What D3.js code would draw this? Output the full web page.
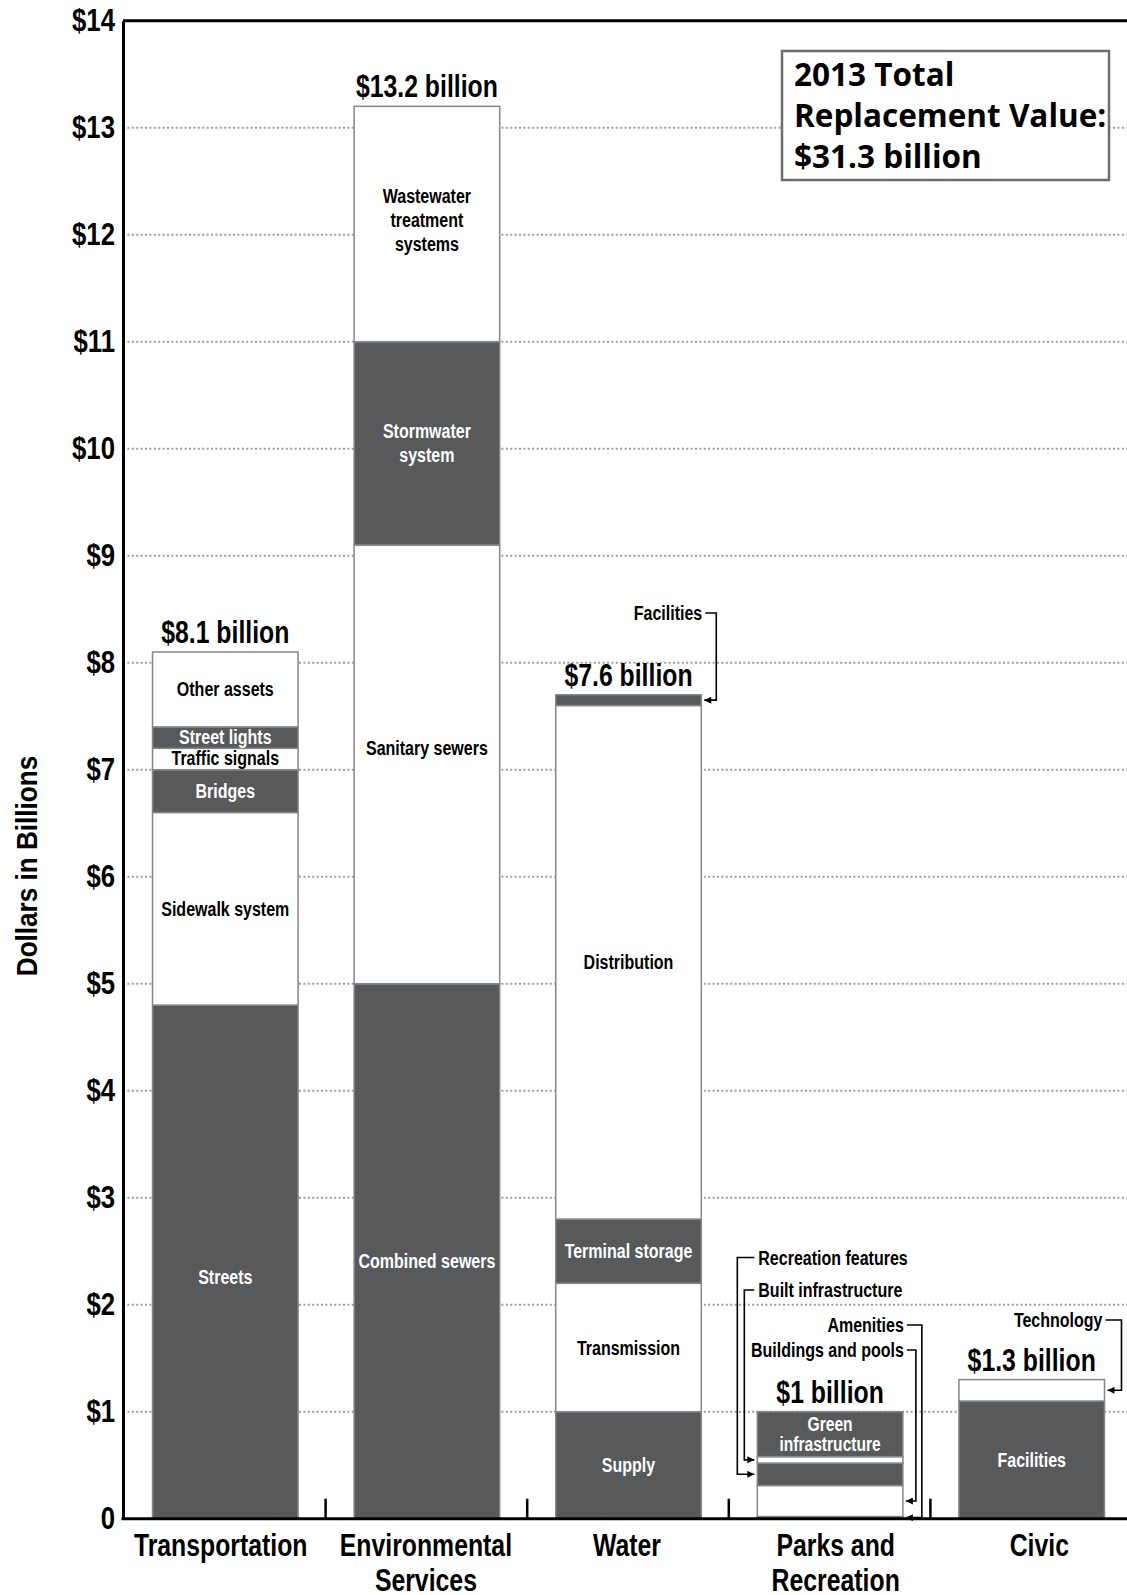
<!DOCTYPE html>
<html>
<head>
<meta charset="utf-8">
<script src="https://cdn.jsdelivr.net/npm/d3@7/dist/d3.min.js"></script>
<style>
  html, body { margin: 0; padding: 0; background: #fff; }
  svg { display: block; }
</style>
</head>
<body>
<svg id="chart" width="1127" height="1595"></svg>
<script>
// ---------- DATA ----------
const categories = ["Transportation", "Environmental Services", "Water", "Parks and Recreation", "Civic"];
const categoryLines = [["Transportation"], ["Environmental", "Services"], ["Water"], ["Parks and", "Recreation"], ["Civic"]];
const totalLabels = ["$8.1 billion", "$13.2 billion", "$7.6 billion", "$1 billion", "$1.3 billion"];

const transportationNames = ["Streets", "Sidewalk system", "Bridges", "Traffic signals", "Street lights", "Other assets"];
const transportationValues = [4.8, 1.8, 0.4, 0.2, 0.2, 0.7];

const environmentalNames = ["Combined sewers", "Sanitary sewers", "Stormwater system", "Wastewater treatment systems"];
const environmentalValues = [5.0, 4.1, 1.9, 2.2];

const waterNames = ["Supply", "Transmission", "Terminal storage", "Distribution", "Facilities"];
const waterValues = [1.0, 1.2, 0.6, 4.8, 0.1];

const parksNames = ["Amenities", "Buildings and pools", "Recreation features", "Built infrastructure", "Green infrastructure"];
const parksValues = [0.02, 0.29, 0.21, 0.06, 0.42];

const civicNames = ["Facilities", "Technology"];
const civicValues = [1.1, 0.2];

const yTicks = [0, 1, 2, 3, 4, 5, 6, 7, 8, 9, 10, 11, 12, 13, 14];
const yTickLabels = ["0", "$1", "$2", "$3", "$4", "$5", "$6", "$7", "$8", "$9", "$10", "$11", "$12", "$13", "$14"];

const legendLines = ["2013 Total", "Replacement Value:", "$31.3 billion"];
const yAxisTitle = "Dollars in Billions";

// ---------- LAYOUT ----------
const W = 1127, H = 1595;
const DARK = "#58595b";
const EDGE = "#868686";
const COND = "'Liberation Sans', Arial, sans-serif";
const BOLD = "'Open Sans', 'DejaVu Sans', sans-serif";
const SQUEEZE = 0.8;

const axisX = 123, topY = 20.7, baseY = 1518.7;
const svg = d3.select("#chart");

const y = d3.scaleLinear().domain([0, 14]).range([baseY, topY]);
const x = d3.scaleBand().domain(categories).range([124.5, 124.5 + 5 * 201.6])
  .paddingInner(0.278).paddingOuter(0.139);

// condensed bold text helper (emulates a condensed face by squeezing glyphs)
function condense(sel, factor) {
  sel.each(function () {
    const w = this.getComputedTextLength();
    d3.select(this).attr("textLength", w * factor).attr("lengthAdjust", "spacingAndGlyphs");
  });
}
function ctext(parent, px, py, str, size, anchor, fill, factor) {
  const t = parent.append("text")
    .attr("x", px).attr("y", py)
    .attr("font-family", COND).attr("font-weight", "bold").attr("font-size", size)
    .attr("text-anchor", anchor || "middle").attr("fill", fill || "#000")
    .text(str);
  condense(t, factor || SQUEEZE);
  return t;
}

const seriesNames = [transportationNames, environmentalNames, waterNames, parksNames, civicNames];
const seriesValues = [transportationValues, environmentalValues, waterValues, parksValues, civicValues];

// segments with cumulative stacking
const segs = [];
categories.forEach((c, i) => {
  let acc = 0;
  seriesValues[i].forEach((v, j) => {
    segs.push({ cat: c, ci: i, idx: j, name: seriesNames[i][j], y0: acc, y1: acc + v });
    acc += v;
  });
});

// labels shown by callouts instead of inside bars
const callouts = {
  "Water|Facilities": 1,
  "Parks and Recreation|Amenities": 1,
  "Parks and Recreation|Buildings and pools": 1,
  "Parks and Recreation|Recreation features": 1,
  "Parks and Recreation|Built infrastructure": 1,
  "Civic|Technology": 1
};
const labelBreaks = {
  "Wastewater treatment systems": ["Wastewater", "treatment", "systems"],
  "Stormwater system": ["Stormwater", "system"],
  "Green infrastructure": ["Green", "infrastructure"]
};
const labelNudge = { "Streets": 15, "Sanitary sewers": -16, "Combined sewers": 10, "Wastewater treatment systems": -4, "Street lights": -1, "Traffic signals": -1 };
const catLabelNudge = [-4.6, -1, -1.5, 5.6, 7.6];

// ---------- GRIDLINES ----------
svg.append("g").selectAll("line").data(yTicks.filter(t => t > 0 && t < 14)).join("line")
  .attr("x1", axisX).attr("x2", W)
  .attr("y1", d => y(d)).attr("y2", d => y(d))
  .attr("stroke", "#9d9d9d").attr("stroke-width", 2).attr("stroke-dasharray", "2,2.4");

// ---------- BARS ----------
svg.append("g").selectAll("rect").data(segs).join("rect")
  .attr("x", d => x(d.cat))
  .attr("width", x.bandwidth())
  .attr("y", d => y(d.y1))
  .attr("height", d => y(d.y0) - y(d.y1))
  .attr("fill", d => d.idx % 2 === 0 ? DARK : "#fff")
  .attr("stroke", EDGE).attr("stroke-width", 1.5);

// in-bar labels
const lg = svg.append("g");
segs.filter(d => !callouts[d.cat + "|" + d.name]).forEach(d => {
  const lines = labelBreaks[d.name] || [d.name];
  const isGreen = d.name === "Green infrastructure";
  const lh = isGreen ? 20 : 24;
  const cy = (y(d.y0) + y(d.y1)) / 2 + (labelNudge[d.name] || 0);
  lines.forEach((ln, k) => {
    ctext(lg, x(d.cat) + x.bandwidth() / 2, cy + (k - (lines.length - 1) / 2) * lh + 7,
      ln, isGreen ? 19.5 : 20, "middle", d.idx % 2 === 0 ? "#fff" : "#000");
  });
});

// ---------- CALLOUTS ----------
const defs = svg.append("defs");
defs.append("marker").attr("id", "ah").attr("viewBox", "0 0 10 10").attr("refX", 10).attr("refY", 5)
  .attr("markerWidth", 8).attr("markerHeight", 7).attr("markerUnits", "userSpaceOnUse").attr("orient", "auto")
  .append("path").attr("d", "M0,0 L10,5 L0,10 z").attr("fill", "#000");

const cg = svg.append("g");
function segOf(cat, name) { return segs.find(s => s.cat === cat && s.name === name); }
function callout(cat, name, side, labelY, elbowX, textX) {
  const s = segOf(cat, name);
  const ay = (y(s.y0) + y(s.y1)) / 2;
  let tipX, startX, anchor;
  if (side === "right") {
    tipX = x(cat) + x.bandwidth() + 3;
    startX = textX + 3; anchor = "end";
  } else {
    tipX = x(cat) - 3;
    startX = textX - 4; anchor = "start";
  }
  cg.append("path")
    .attr("d", `M${startX},${labelY} H${elbowX} V${ay} H${tipX}`)
    .attr("fill", "none").attr("stroke", "#000").attr("stroke-width", 1.6)
    .attr("marker-end", "url(#ah)");
  ctext(cg, textX, labelY + 7, name, 20, anchor, "#000");
}
const xw = x("Water") + x.bandwidth();
callout("Water", "Facilities", "right", 613, xw + 15, xw + 1);
const xp = x("Parks and Recreation");
const xpr = xp + x.bandwidth();
callout("Parks and Recreation", "Recreation features", "left", 1257.5, xp - 20, xp + 1);
callout("Parks and Recreation", "Built infrastructure", "left", 1290, xp - 13, xp + 1);
callout("Parks and Recreation", "Amenities", "right", 1325, xpr + 19, xpr + 1);
callout("Parks and Recreation", "Buildings and pools", "right", 1350, xpr + 13, xpr + 1);
const xc = x("Civic") + x.bandwidth();
callout("Civic", "Technology", "right", 1320, xc + 17, xc - 2);

// ---------- TOTAL LABELS ----------
const tg = svg.append("g");
categories.forEach((c, i) => {
  ctext(tg, x(c) + x.bandwidth() / 2, y(d3.sum(seriesValues[i])) - 9, totalLabels[i], 31, "middle", "#000");
});

// ---------- AXES ----------
svg.append("line").attr("x1", axisX).attr("x2", W).attr("y1", topY).attr("y2", topY)
  .attr("stroke", "#000").attr("stroke-width", 3);
const yAxis = d3.axisLeft(y).tickValues(yTicks).tickSize(0).tickPadding(8)
  .tickFormat((d, i) => yTickLabels[i]);
const ya = svg.append("g").attr("transform", `translate(${axisX},0)`).call(yAxis);
ya.select(".domain").attr("stroke", "#000").attr("stroke-width", 3);
ya.selectAll("text").attr("font-size", 31).attr("fill", "#000")
  .attr("font-family", COND).attr("font-weight", "bold");
condense(ya.selectAll("text"), 0.83);

const xa = svg.append("g").attr("transform", `translate(0,${baseY})`);
xa.append("line").attr("x1", axisX - 1.5).attr("x2", W).attr("stroke", "#000").attr("stroke-width", 3);
const step = x.step();
xa.selectAll("line.tk").data(categories.slice(1)).join("line").attr("class", "tk")
  .attr("x1", d => x(d) - x.paddingInner() * step / 2 - 0.5)
  .attr("x2", d => x(d) - x.paddingInner() * step / 2 - 0.5)
  .attr("y1", 0).attr("y2", -20).attr("stroke", "#000").attr("stroke-width", 2.5);
categories.forEach((c, i) => {
  categoryLines[i].forEach((ln, k) => {
    ctext(xa, x(c) + x.bandwidth() / 2 + catLabelNudge[i], 37 + k * 35, ln, 31, "middle", "#000");
  });
});

// y axis title
const yt = svg.append("g").attr("transform", "translate(37,866) rotate(-90)");
ctext(yt, 0, 0, yAxisTitle, 30, "middle", "#000", 0.87);

// ---------- LEGEND BOX ----------
const lgb = svg.append("g");
lgb.append("rect").attr("x", 782).attr("y", 51).attr("width", 327).attr("height", 129)
  .attr("fill", "#fff").attr("stroke", "#6d6e71").attr("stroke-width", 2.5);
lgb.selectAll("text").data(legendLines).join("text")
  .attr("x", 794).attr("y", (d, i) => 85.5 + i * 41)
  .attr("font-family", BOLD).attr("font-weight", "bold").attr("font-size", 31.5)
  .text(d => d);
</script>
</body>
</html>
